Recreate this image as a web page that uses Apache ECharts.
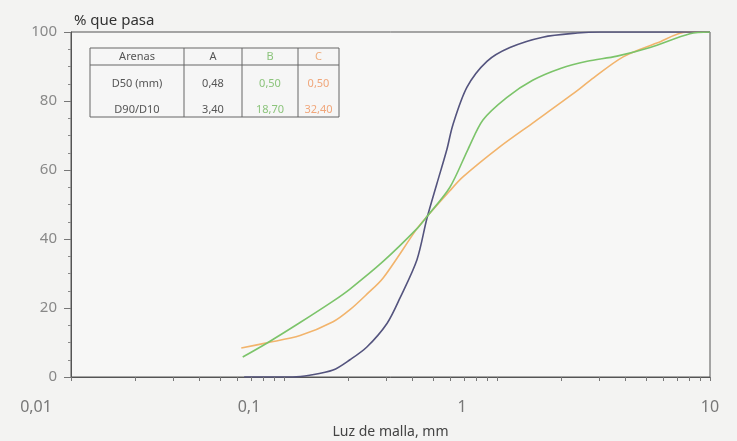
<!DOCTYPE html>
<html>
<head>
<meta charset="utf-8">
<script src="https://cdn.jsdelivr.net/npm/echarts@6/dist/echarts.min.js"></script>
<style>
html,body{margin:0;padding:0;background:#f3f3f2;}
#c{width:737px;height:441px;}
</style>
</head>
<body>
<div id="c"></div>
<script>
// ---- data ----
const sizesA = [0.065, 0.11, 0.132, 0.17, 0.204, 0.245, 0.305, 0.351, 0.421, 0.469, 0.522, 0.582, 0.62, 0.723, 0.897, 1.15, 1.64, 2.38, 3.05, 10];
const passA  = [0, 0, 0.5, 2, 5, 8.7, 15.6, 23, 34, 46, 56, 66, 73, 84, 91.5, 95.5, 98.5, 99.7, 100, 100];

const sizesB = [0.064, 0.083, 0.119, 0.17, 0.204, 0.292, 0.421, 0.469, 0.601, 0.731, 0.859, 1.11, 1.47, 2.0, 2.65, 3.66, 5.23, 8.05, 10];
const passB  = [5.8, 9.8, 15.8, 22, 25.5, 33.5, 43, 46.5, 55, 66, 74.5, 81, 86, 89.5, 91.5, 93, 95.5, 99.5, 100];

const sizesC = [0.063, 0.083, 0.119, 0.17, 0.204, 0.245, 0.292, 0.421, 0.469, 0.601, 0.692, 1.03, 1.47, 2.38, 2.74, 3.91, 5.63, 7.8, 10];
const passC  = [8.4, 9.9, 12, 16, 19.5, 24, 28.7, 43, 46.5, 54, 58, 66.7, 73.6, 83, 86, 92.8, 96.8, 100, 100];

const seriesNames = ['A', 'B', 'C'];

const xTickValues = [0.01, 0.1, 1, 10];
const xTickLabels = ['0,01', '0,1', '1', '10'];
const xMinorTicks = [];
[0.01, 0.1, 1].forEach(d => { for (let k = 1; k <= 9; k++) xMinorTicks.push(+(d * k).toPrecision(3)); });
xMinorTicks.push(10);

const tableHeader = ['Arenas', 'A', 'B', 'C'];
const tableRowNames = ['D50 (mm)', 'D90/D10'];
const tableA = ['0,48', '3,40'];
const tableB = ['0,50', '18,70'];
const tableC = ['0,50', '32,40'];

const colors = ['#54547e', '#7cc46a', '#f2b46c'];
const headColors = ['#555555', '#555555', '#8cc47c', '#f0b080'];
const cellColors = ['#555555', '#555555', '#8cc47c', '#f0a67a'];

function pairs(xs, ys) { return xs.map((x, i) => [x, ys[i]]); }

// ---- table graphic ----
const FONT = "'Noto Sans', sans-serif";
const tX = [90, 184, 242, 298, 339];
const tY = [48, 65, 117];
const rowY = [84, 110];
const g = [];
g.push({ type: 'rect', shape: { x: tX[0], y: tY[0], width: tX[4] - tX[0], height: tY[2] - tY[0] },
  style: { fill: '#f6f6f6', stroke: '#666', lineWidth: 1 }, z: 10 });
g.push({ type: 'line', shape: { x1: tX[0], y1: tY[1], x2: tX[4], y2: tY[1] }, style: { stroke: '#666', lineWidth: 1 }, z: 11 });
for (let i = 1; i < 4; i++) {
  g.push({ type: 'line', shape: { x1: tX[i], y1: tY[0], x2: tX[i], y2: tY[2] }, style: { stroke: '#666', lineWidth: 1 }, z: 11 });
}
tableHeader.forEach((t, i) => {
  g.push({ type: 'text', x: (tX[i] + tX[i + 1]) / 2, y: (tY[0] + tY[1]) / 2, z: 12,
    style: { text: t, fill: headColors[i], font: '11px ' + FONT, align: 'center', verticalAlign: 'middle' } });
});
const cols = [tableRowNames, tableA, tableB, tableC];
cols.forEach((col, i) => {
  col.forEach((t, r) => {
    g.push({ type: 'text', x: (tX[i] + tX[i + 1]) / 2, y: rowY[r], z: 12,
      style: { text: t, fill: cellColors[i], font: '11px ' + FONT, align: 'center', verticalAlign: 'middle' } });
  });
});

const chart = echarts.init(document.getElementById('c'));
chart.setOption({
  backgroundColor: '#f3f3f2',
  animation: false,
  textStyle: { fontFamily: FONT },
  title: { text: '% que pasa', left: 69, top: 8,
    textStyle: { fontSize: 15, fontWeight: 'normal', color: '#333', fontFamily: FONT } },
  grid: { left: 71, right: 27, top: 32, bottom: 64, show: true, backgroundColor: '#f7f7f6',
    borderColor: '#555', borderWidth: 1, containLabel: false, outerBoundsMode: 'none' },
  xAxis: {
    type: 'log', logBase: 10, min: 0.01, max: 10,
    name: 'Luz de malla, mm', nameLocation: 'middle', nameGap: 48,
    nameTextStyle: { fontSize: 14, color: '#444', fontFamily: FONT },
    axisLine: { show: true, lineStyle: { color: '#555', width: 1 } },
    axisTick: { show: false },
    minorTick: { show: false },
    splitLine: { show: false },
    axisLabel: {
      customValues: xTickValues, margin: 22, fontSize: 16, color: '#777',
      formatter: function (v) {
        let idx = xTickValues.findIndex(t => Math.abs(t - v) / t < 1e-6);
        const s = idx >= 0 ? xTickLabels[idx] : String(v);
        return v >= 10 ? '{n|' + s + '}' : '{s|' + s + '}';
      },
      rich: {
        s: { fontSize: 16, color: '#777', padding: [0, 70, 0, 0], fontFamily: FONT },
        n: { fontSize: 16, color: '#777', fontFamily: FONT }
      }
    }
  },
  yAxis: {
    type: 'value', min: 0, max: 100, interval: 20,
    axisLine: { show: true, lineStyle: { color: '#555', width: 1 } },
    axisTick: { show: true, length: 7, lineStyle: { color: '#777' } },
    minorTick: { show: true, splitNumber: 4, length: 3, lineStyle: { color: '#888' } },
    splitLine: { show: false },
    axisLabel: { fontSize: 15, color: '#888', margin: 14 }
  },
  series: [
    { name: seriesNames[0], type: 'line', data: pairs(sizesA, passA), smooth: 0.3, showSymbol: false,
      lineStyle: { color: colors[0], width: 1.6 }, itemStyle: { color: colors[0] }, z: 3 },
    { name: seriesNames[1], type: 'line', data: pairs(sizesB, passB), smooth: 0.3, showSymbol: false,
      lineStyle: { color: colors[1], width: 1.6 }, itemStyle: { color: colors[1] }, z: 4 },
    { name: seriesNames[2], type: 'line', data: pairs(sizesC, passC), smooth: 0.3, showSymbol: false,
      lineStyle: { color: colors[2], width: 1.6 }, itemStyle: { color: colors[2] }, z: 2 }
  ]
});

// x-axis log ticks (1..9 per decade), positioned through the axis scale
const tickG = xMinorTicks.map(v => {
  const p = chart.convertToPixel({ xAxisIndex: 0, yAxisIndex: 0 }, [v, 0]);
  const x = Math.round(p[0]) + 0.5;
  return { type: 'line', silent: true, z: 5,
    shape: { x1: x, y1: p[1], x2: x, y2: p[1] + 4 },
    style: { stroke: '#777', lineWidth: 1 } };
});
chart.setOption({ graphic: g.concat(tickG) });
</script>
</body>
</html>
